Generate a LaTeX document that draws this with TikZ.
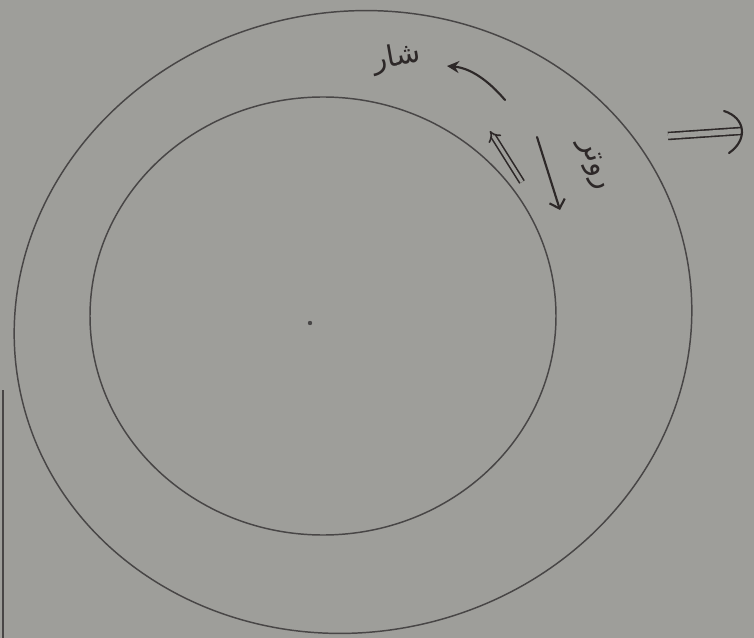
\documentclass[tikz,border=0pt]{standalone}
\usepackage{fontspec}
\usetikzlibrary{arrows.meta}
\newfontfamily\arabicfont[Script=Arabic]{DejaVu Sans}
\TeXXeTstate=1
\definecolor{paper}{RGB}{158,158,154}
\definecolor{ink}{RGB}{72,70,70}
\definecolor{pen}{RGB}{45,40,40}

\begin{document}
\begin{tikzpicture}[
  x=0.75pt, y=-0.75pt,
  pencil/.style={draw=ink, line width=1.1pt},
  marker/.style={draw=pen, line width=1.6pt, line cap=round},
  twoline/.style={draw=pen, line width=1.2pt, double=paper},
  label/.style={text=pen, font=\arabicfont\fontsize{22}{26}\selectfont, inner sep=0pt}
]
\useasboundingbox (0,0) rectangle (754,638);
\fill[paper] (0,0) rectangle (754,638);

% rings
\coordinate (centre) at (323,316);
\draw[pencil, rotate around={12:(353,322)}] (353,322) ellipse [x radius=340, y radius=310];
\draw[pencil] (centre) ellipse [x radius=233, y radius=219];
\fill[ink] (310,323) circle (2.2);

% edge of the sheet
\coordinate (edgetop) at (3,390);
\coordinate (edgebot) at (3,638);
\draw[pencil] (edgetop) -- (edgebot);

% outer arrow and its label
\coordinate (outerstart) at (505,100);
\coordinate (outerend) at (447,66);
\draw[marker, -{Stealth[length=9pt, width=9pt]}] (outerstart) .. controls (488,80) and (470,68) .. (outerend);
\node[label, rotate=10] (flux) at (397,58) {\beginR شار\endR};

% inner arrows and label
\coordinate (innerstart) at (522,182);
\coordinate (innerend) at (490,131);
\draw[twoline, double distance=2.5pt, -{Implies[scale=1.5]}] (innerstart) -- (innerend);
\coordinate (downstart) at (537,137);
\coordinate (downend) at (560,210);
\draw[marker, -{Straight Barb[length=6pt]}] (downstart) -- (downend);
\node[label, rotate=-70] (rotor) at (593,165) {\beginR روتر\endR};

% right arrow, head drawn by hand
\coordinate (rightstart) at (668,136);
\coordinate (rightend) at (741,131);
\coordinate (headtop) at (724,111);
\coordinate (headbot) at (729,153);
\draw[twoline, double distance=4pt] (rightstart) -- (rightend);
\draw[marker] (headtop) .. controls (746,118) and (748,140) .. (headbot);
\end{tikzpicture}
\end{document}
